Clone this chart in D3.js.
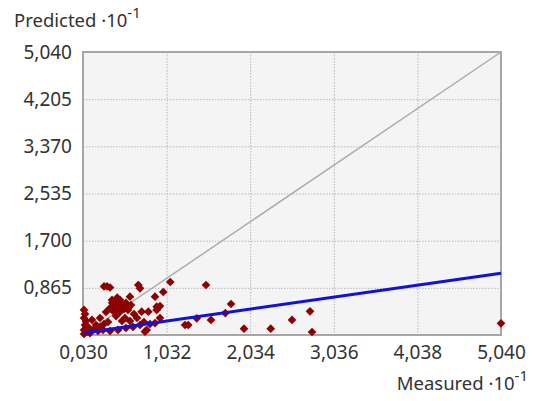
<!DOCTYPE html>
<html><head><meta charset="utf-8">
<script src="https://cdn.jsdelivr.net/npm/d3@7"></script>
<style>
html,body{margin:0;padding:0;background:#fff;}
svg{display:block;font-family:"Noto Sans","Open Sans",sans-serif;}
</style></head>
<body><svg id="chart" width="538" height="401"></svg>
<script>
const xTicks = [0.030, 1.032, 2.034, 3.036, 4.038, 5.040];
const yTicks = [0.030, 0.865, 1.700, 2.535, 3.370, 4.205, 5.040];
const measured = [1.076,0.992,0.953,1.504,1.804,1.736,1.564,1.393,1.253,1.292,1.960,2.280,2.535,2.751,2.775,5.040,
 0.318,0.354,0.282,0.693,0.713,0.593,0.893,0.913,0.913,0.733,0.813,0.793,0.773,
 0.378,0.426,0.473,0.402,0.450,0.497,0.354,0.521,0.545,0.390,0.473,0.569,0.605,0.306,0.641,0.426,0.533,0.234,0.677,0.761,0.833,0.330,0.186,
 0.042,0.054,0.042,0.066,0.054,0.090,0.042,0.078,0.114,0.138,0.162,0.210,0.270,0.354,0.450,0.545,0.629,0.713,0.234,0.282,0.042,0.893,0.953,0.497,0.593,
 0.440,0.500,0.380,0.580,0.420,0.470];
const predicted = [0.968,0.791,0.543,0.915,0.579,0.419,0.296,0.326,0.207,0.207,0.142,0.142,0.296,0.450,0.083,0.237,
 0.889,0.871,0.889,0.915,0.857,0.708,0.708,0.531,0.473,0.443,0.443,0.119,0.088,
 0.650,0.614,0.650,0.561,0.543,0.579,0.508,0.490,0.597,0.455,0.437,0.473,0.561,0.437,0.402,0.366,0.331,0.331,0.331,0.260,0.225,0.260,0.207,
 0.473,0.402,0.331,0.278,0.207,0.172,0.119,0.083,0.065,0.296,0.136,0.101,0.119,0.101,0.119,0.154,0.172,0.207,0.172,0.225,0.048,0.242,0.331,0.278,0.278,
 0.690,0.520,0.600,0.520,0.480,0.580];
const fitX = [0.030, 5.040];
const fitY = [0.065, 1.125];

const svg = d3.select("#chart");
const L = 83, R = 501, T = 52, B = 335;
const x = d3.scaleLinear().domain([0.030, 5.040]).range([L, R]);
const y = d3.scaleLinear().domain([0.030, 5.040]).range([B, T]);
const fmt = v => d3.format(".3f")(v).replace(".", ",");

svg.append("rect").attr("x", L).attr("y", T).attr("width", R - L).attr("height", B - T).attr("fill", "#f4f4f4");

// grid
const gx = svg.append("g").attr("transform", `translate(0,${T})`)
  .call(d3.axisBottom(x).tickValues(xTicks.slice(1, -1)).tickSize(B - T).tickFormat(""));
const gy = svg.append("g").attr("transform", `translate(${L},0)`)
  .call(d3.axisRight(y).tickValues(yTicks.slice(1, -1)).tickSize(R - L).tickFormat(""));
[gx, gy].forEach(g => {
  g.select(".domain").remove();
  g.selectAll("line").attr("stroke", "#b8b8b8").attr("stroke-dasharray", "1.5,1.5").attr("stroke-width", 1);
});

// frame
svg.append("rect").attr("x", L).attr("y", T).attr("width", R - L).attr("height", B - T)
  .attr("fill", "none").attr("stroke", "#a6a6a6").attr("stroke-width", 2);

// y = x line
svg.append("line").attr("x1", x(0.030)).attr("y1", y(0.030)).attr("x2", x(5.040)).attr("y2", y(5.040))
  .attr("stroke", "#acacac").attr("stroke-width", 1.5);

// points
const pts = measured.map((m, i) => [m, predicted[i]]);
const sym = d3.symbol().type(d3.symbolSquare).size(38);
svg.append("g").selectAll("path").data(pts).join("path")
  .attr("d", sym)
  .attr("transform", d => `translate(${x(d[0])},${y(d[1])}) rotate(45)`)
  .attr("fill", "#8e0000");

// fit line
svg.append("line").attr("x1", x(fitX[0])).attr("y1", y(fitY[0])).attr("x2", x(fitX[1])).attr("y2", y(fitY[1]))
  .attr("stroke", "#1010e0").attr("stroke-width", 3);

// axes labels
const yAx = svg.append("g").attr("transform", `translate(${L},0)`)
  .call(d3.axisLeft(y).tickValues(yTicks.slice(1)).tickSize(0).tickPadding(11).tickFormat(fmt));
const xAx = svg.append("g").attr("transform", `translate(0,${B})`)
  .call(d3.axisBottom(x).tickValues(xTicks).tickSize(0).tickPadding(11).tickFormat(fmt));
[xAx, yAx].forEach(g => {
  g.select(".domain").remove();
  g.selectAll("text").attr("font-size", 19).attr("fill", "#333").attr("font-family", "'Noto Sans',sans-serif");
});

const t1 = svg.append("text").attr("x", 14).attr("y", 27).attr("font-size", 18.5).attr("fill", "#333");
t1.append("tspan").text("Predicted ·10");
t1.append("tspan").attr("dy", -9).attr("font-size", 15).text("-1");

const t2 = svg.append("text").attr("x", 528).attr("y", 390).attr("font-size", 18.5).attr("fill", "#333").attr("text-anchor", "end");
t2.append("tspan").text("Measured ·10");
t2.append("tspan").attr("dy", -9).attr("font-size", 15).text("-1");
</script></body></html>
